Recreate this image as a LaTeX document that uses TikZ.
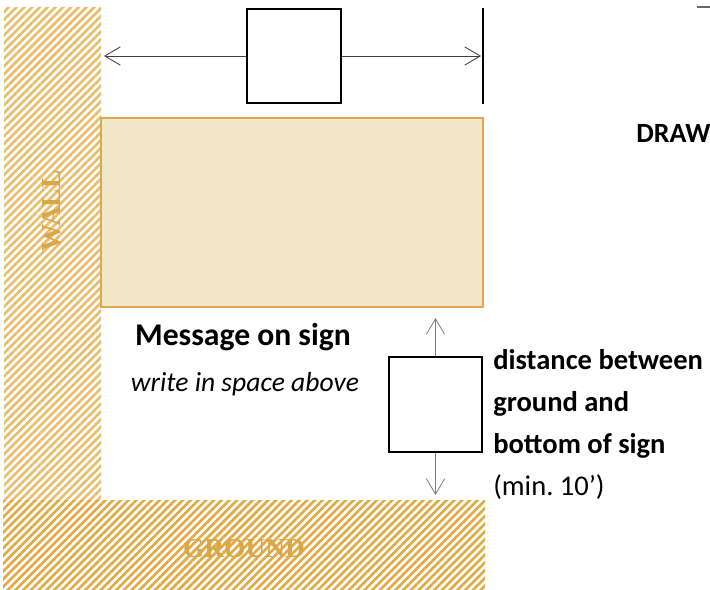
\documentclass[tikz,border=0pt]{standalone}
\usepackage{fontspec}
\setmainfont{Carlito}
\newfontfamily\plaqueserif{Liberation Serif}
\usetikzlibrary{arrows.meta, positioning, patterns.meta}

\definecolor{signfill}{HTML}{F3E7C9}
\definecolor{signedge}{HTML}{DDA94A}
\definecolor{wallhatch}{HTML}{E8BE6E}
\definecolor{groundhatch}{HTML}{E0AA45}
\definecolor{earthtext}{HTML}{DBA745}

\begin{document}
\begin{tikzpicture}[
    x=0.025cm, y=-0.025cm,
    >={Straight Barb[length=11pt,width=13pt]},
    measure/.style={draw, line width=1pt, inner sep=0pt},
    dim_line/.style={->, line width=0.6pt, draw=black!75},
    hatched/.style={pattern={Lines[angle=45,distance=3.9pt,line width=1.9pt]}},
    earth_text/.style={font=\plaqueserif\bfseries\fontsize{19.5}{22}\selectfont, text=earthtext},
    label_text/.style={font=\bfseries\fontsize{22.5}{26}\selectfont}
]
    \useasboundingbox (0,0) rectangle (710,590);

    % === 1. Wall and ground ===
    \fill[hatched, pattern color=wallhatch] (4,8) rectangle (101,500);
    \fill[hatched, pattern color=groundhatch] (3,500) rectangle (485,590);
    \node[earth_text, rotate=90] (wall) at (52,211) {WALL};
    \node[earth_text] (ground) at (244,549) {GROUND};

    % === 2. Sign ===
    \draw[fill=signfill, draw=signedge, line width=1.4pt] (101,118) rectangle (483,307);
    \node[label_text] (message) at (243,337) {Message on sign};
    \node[font=\itshape\fontsize{19.6}{22}\selectfont] (hint) at (245,384) {write in space above};

    % === 3. Sign width ===
    \node[measure, minimum width=2.35cm, minimum height=2.35cm] (widthbox) at (294,56) {};
    \coordinate (left_end) at (104,56);
    \coordinate (right_end) at (481,56);
    \draw[dim_line] (widthbox) -- (left_end);
    \draw[dim_line] (widthbox) -- (right_end);
    \draw[line width=0.8pt] (483,8) -- (483,104);

    % === 4. Height above ground ===
    \node[measure, minimum width=2.325cm, minimum height=2.375cm] (heightbox) at (435.5,404.5) {};
    \coordinate (up_end) at (435.5,318);
    \coordinate (down_end) at (435.5,495);
    \draw[dim_line, draw=black!50] (heightbox) -- (up_end);
    \draw[dim_line, draw=black!50] (heightbox) -- (down_end);
    \node[font=\fontsize{20.3}{30}\selectfont, align=left, anchor=north west, inner sep=0pt]
        (distance) at (493,349)
        {\textbf{distance between}\\\textbf{ground and}\\\textbf{bottom of sign}\\(min.\ 10’)};

    % === 5. Cut-off note ===
    \node[label_text, font=\bfseries\fontsize{19.8}{24}\selectfont, anchor=base west, inner sep=0pt]
        (note) at (636,143) {DRAW};
    \draw[black!60, line width=0.8pt] (697,7) -- (710,7);

\end{tikzpicture}
\end{document}
